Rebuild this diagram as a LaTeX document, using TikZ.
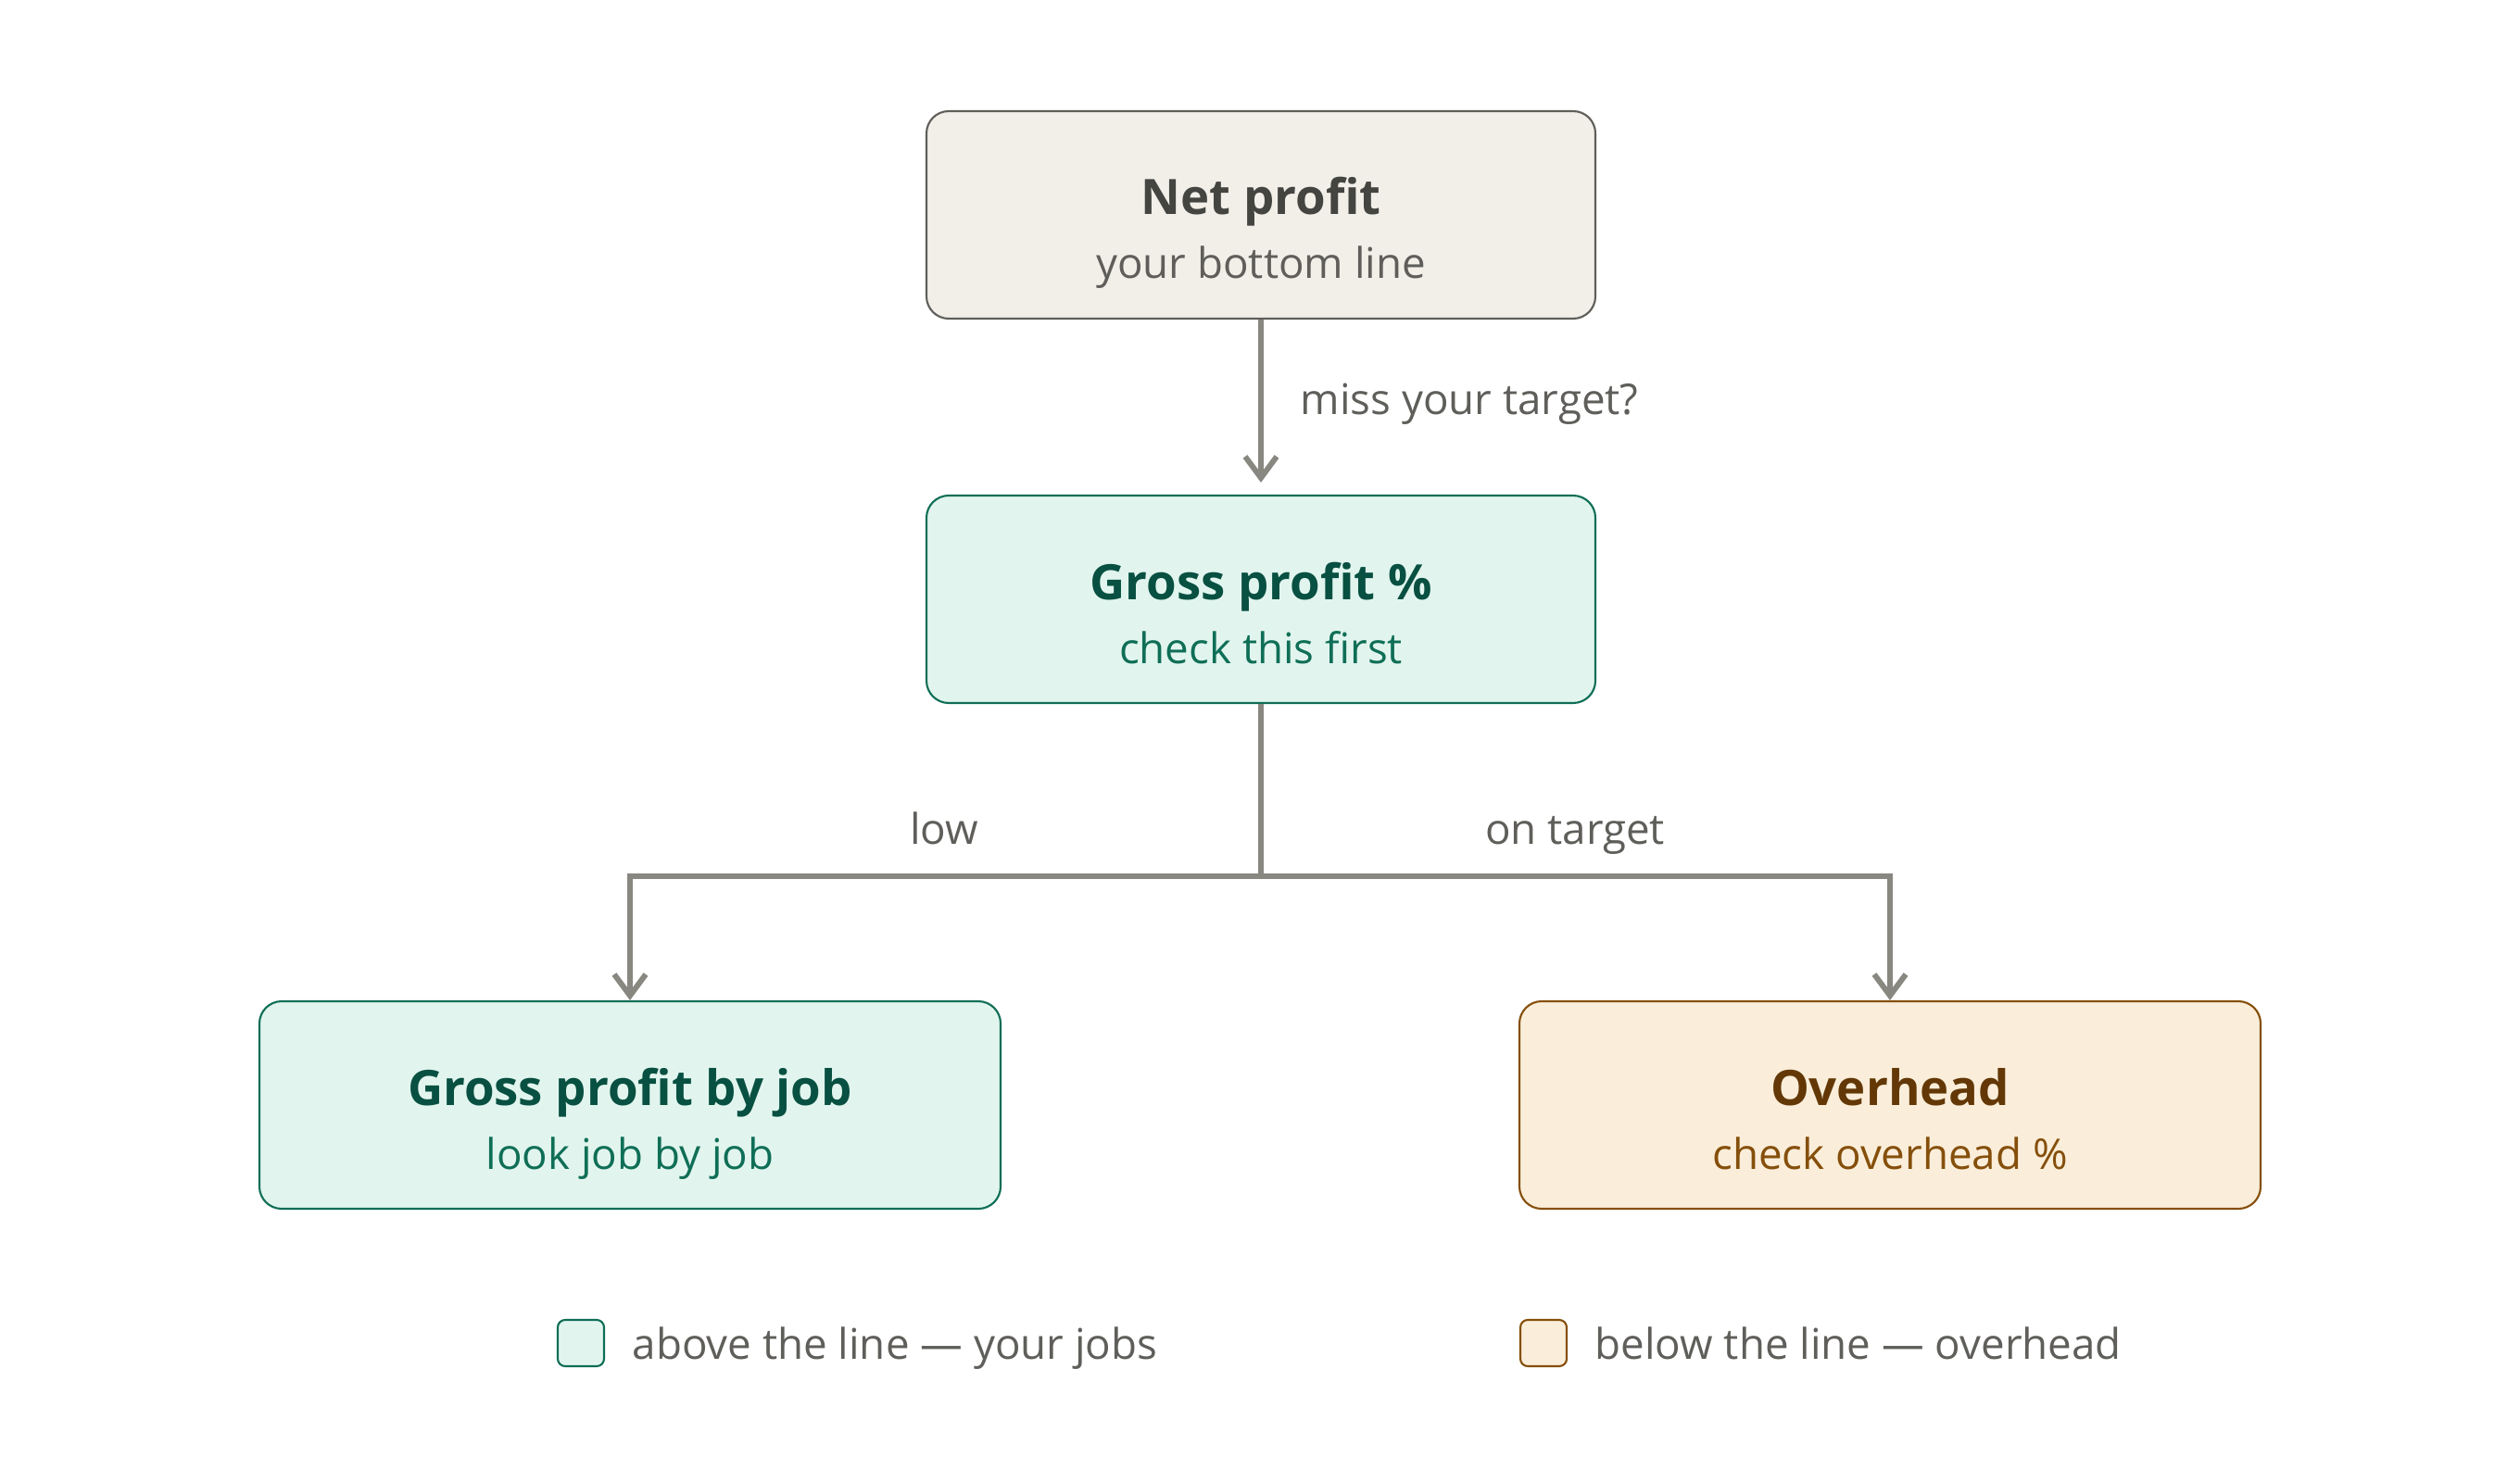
\documentclass[tikz,border=0pt]{standalone}
\usepackage{fontspec}
\setmainfont{Open Sans}
\usepackage{xcolor}
\usepackage{tikz}
\usetikzlibrary{positioning,arrows.meta}

\definecolor{grayfill}{HTML}{F1EFE8}
\definecolor{grayline}{HTML}{5F5E5A}
\definecolor{graytext}{HTML}{444441}
\definecolor{greenfill}{HTML}{E1F5EE}
\definecolor{greenline}{HTML}{0F6E56}
\definecolor{greentext}{HTML}{085041}
\definecolor{amberfill}{HTML}{FAEEDA}
\definecolor{amberline}{HTML}{854F0B}
\definecolor{ambertext}{HTML}{633806}
\definecolor{flowline}{HTML}{888780}

\tikzset{
  box/.style={draw, rounded corners=0.24cm, line width=0.6pt, minimum height=2.24cm},
  topbox/.style={box, minimum width=7.22cm},
  lowbox/.style={box, minimum width=8cm},
  ttl/.style={font=\fontsize{15}{18}\selectfont\bfseries, anchor=base, inner sep=0pt},
  sub/.style={font=\fontsize{13}{16}\selectfont, anchor=base, inner sep=0pt},
  lbl/.style={font=\fontsize{13}{16}\selectfont, text=grayline, inner sep=0pt},
  flow/.style={draw=flowline, line width=1.7pt, -{Straight Barb[length=2.3mm,width=3.4mm]}},
  swatch/.style={draw, rounded corners=0.08cm, line width=0.6pt, minimum size=0.5cm, inner sep=0pt}
}

\begin{document}
\begin{tikzpicture}
\useasboundingbox (0,0) rectangle (27.2,-16);

% top nodes
\node[topbox, fill=grayfill, draw=grayline] (net) at (13.61,-2.32) {};
\node[ttl, text=graytext] (netT) at (net.center) {Net profit};
\node[sub, text=grayline] (netS) at ([yshift=-0.69cm]net.center) {your bottom line};

\node[topbox, fill=greenfill, draw=greenline] (gp) at (13.61,-6.47) {};
\node[ttl, text=greentext] (gpT) at (gp.center) {Gross profit \%};
\node[sub, text=greenline] (gpS) at ([yshift=-0.69cm]gp.center) {check this first};

% bottom nodes
\node[lowbox, fill=greenfill, draw=greenline] (job) at (6.80,-11.93) {};
\node[ttl, text=greentext] (jobT) at (job.center) {Gross profit by job};
\node[sub, text=greenline] (jobS) at ([yshift=-0.69cm]job.center) {look job by job};

\node[lowbox, fill=amberfill, draw=amberline] (oh) at (20.40,-11.93) {};
\node[ttl, text=ambertext] (ohT) at (oh.center) {Overhead};
\node[sub, text=amberline] (ohS) at ([yshift=-0.69cm]oh.center) {check overhead \%};

% arrows
\draw[flow, shorten >=0.13cm] (net) -- (gp);
\coordinate (split) at (13.61,-9.46);
\draw[flow] (gp.south) -- (split) -| (job.north);
\draw[flow] (split) -| (oh.north);

% labels
\node[lbl, anchor=base west] (miss) at (14.03,-4.48) {miss your target?};
\node[lbl, anchor=base] (low) at (10.19,-9.11) {low};
\node[lbl, anchor=base] (ontarget) at (17.00,-9.11) {on target};

% legend
\node[swatch, fill=greenfill, draw=greenline] (keyA) at (6.27,-14.50) {};
\node[lbl, anchor=base west] (keyAT) at (6.82,-14.67) {above the line — your jobs};
\node[swatch, fill=amberfill, draw=amberline] (keyB) at (16.66,-14.50) {};
\node[lbl, anchor=base west] (keyBT) at (17.21,-14.67) {below the line — overhead};
\end{tikzpicture}
\end{document}
